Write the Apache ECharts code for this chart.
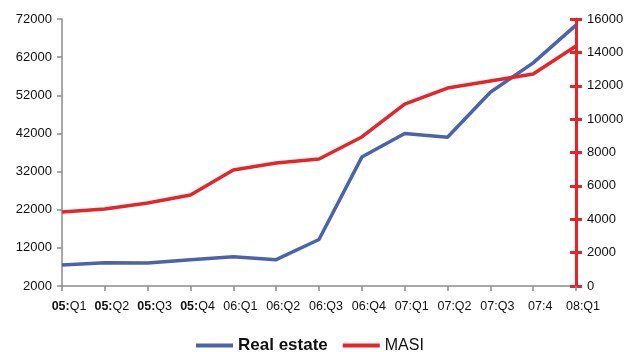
<!DOCTYPE html>
<html>
<head>
<meta charset="utf-8">
<script src="https://cdn.jsdelivr.net/npm/echarts@6/dist/echarts.min.js"></script>
<style>
  html, body { margin: 0; padding: 0; background: #fff; }
  #chart { width: 641px; height: 352px; }
</style>
</head>
<body>
<div id="chart"></div>
<script>
// quarters on the x axis
const quarters = ["05:Q1", "05:Q2", "05:Q3", "05:Q4", "06:Q1", "06:Q2", "06:Q3",
  "06:Q4", "07:Q1", "07:Q2", "07:Q3", "07:4", "08:Q1"];
// left axis
const realEstate = [7500, 8100, 8000, 8900, 9700, 8900, 14200, 35800, 42000, 41000, 52800, 60500, 70400];
// right axis
const masi = [4430, 4610, 4970, 5450, 6950, 7370, 7610, 8930, 10900, 11860, 12280, 12700, 14380];

const blue = "#4a64ab";
const red = "#e6252b";
const grey = "#8c8c8c";

const chart = echarts.init(document.getElementById("chart"));
chart.setOption({
  animation: false,
  textStyle: { fontFamily: "Liberation Sans, Arial, sans-serif" },
  grid: { left: 62, right: 65, top: 19, bottom: 66 },
  legend: {
    left: 196,
    top: 337,
    padding: 0,
    icon: "rect",
    itemWidth: 37,
    itemHeight: 4,
    itemGap: 15,
    textStyle: { fontSize: 16, color: "#111" },
    data: [
      { name: "Real estate", textStyle: { fontWeight: "bold", fontSize: 17 } },
      { name: "MASI", textStyle: { fontSize: 16, padding: [4, 0, 0, 0] } }
    ]
  },
  xAxis: {
    type: "category",
    boundaryGap: false,
    data: quarters,
    axisLine: { lineStyle: { color: grey, width: 1.5 } },
    axisTick: { show: true, length: 5, interval: 0, lineStyle: { color: grey, width: 1.5 } },
    axisLabel: {
      interval: 0,
      hideOverlap: false,
      margin: 14,
      fontSize: 12.5,
      padding: [0, 0, 0, 14],
      color: "#111",
      formatter: (v) => {
        if (v.indexOf("05:") === 0) return "{b|05:}" + v.slice(3);
        return v;
      },
      rich: { b: { fontWeight: "bold", fontSize: 12.5, color: "#111" } }
    }
  },
  yAxis: [
    {
      type: "value",
      position: "left",
      min: 2000,
      max: 72000,
      interval: 10000,
      splitLine: { show: false },
      axisLine: { show: true, lineStyle: { color: grey, width: 1.5 } },
      axisTick: { show: true, length: 5, lineStyle: { color: grey, width: 1.5 } },
      axisLabel: { margin: 10, fontSize: 13, color: "#111", formatter: (v) => String(v) }
    },
    {
      type: "value",
      position: "right",
      min: 0,
      max: 16000,
      interval: 2000,
      splitLine: { show: false },
      axisLine: { show: true, lineStyle: { color: red, width: 3 } },
      axisTick: { show: true, length: 6, lineStyle: { color: red, width: 3 } },
      axisLabel: { margin: 11, fontSize: 13, color: "#111", formatter: (v) => String(v) }
    },
    {
      // inner half of the red tick marks
      type: "value",
      position: "right",
      min: 0,
      max: 16000,
      interval: 2000,
      splitLine: { show: false },
      axisLine: { show: false },
      axisTick: { show: true, inside: true, length: 6, lineStyle: { color: red, width: 3 } },
      axisLabel: { show: false }
    }
  ],
  series: [
    {
      name: "Real estate",
      type: "line",
      yAxisIndex: 0,
      data: realEstate,
      showSymbol: false,
      symbol: "none",
      lineStyle: { color: blue, width: 3.5 },
      itemStyle: { color: blue }
    },
    {
      name: "MASI",
      type: "line",
      yAxisIndex: 1,
      data: masi,
      showSymbol: false,
      symbol: "none",
      lineStyle: { color: red, width: 3.5 },
      itemStyle: { color: red }
    }
  ]
});
</script>
</body>
</html>
